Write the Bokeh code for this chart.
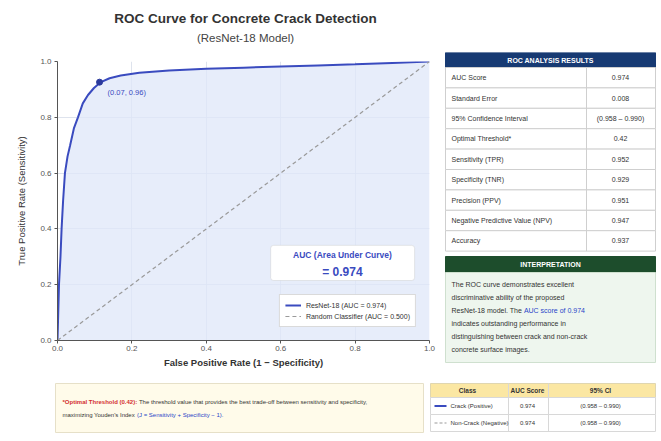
from bokeh.plotting import figure
from bokeh.layouts import column, row
from bokeh.models import Range1d, Label, BoxAnnotation, Legend, LegendItem, PrintfTickFormatter
from bokeh.core.properties import value
from bokeh.embed import file_html
from bokeh.resources import INLINE

FONT = "Liberation Sans"
BLUE = "#3a4bbf"
NAVY = "#173a73"
GREEN = "#1d4d2c"

# ---- data ----
fpr = [0.0, 0.002, 0.004, 0.008, 0.011, 0.015, 0.02, 0.027, 0.034, 0.044, 0.055, 0.068, 0.082,
       0.098, 0.115, 0.14, 0.17, 0.22, 0.3, 0.4, 0.5, 0.6, 0.7, 0.8, 0.9, 1.0]
tpr = [0.0, 0.1, 0.2, 0.3, 0.4, 0.5, 0.6, 0.66, 0.7, 0.76, 0.8, 0.85, 0.88,
       0.905, 0.925, 0.94, 0.95, 0.96, 0.968, 0.974, 0.978, 0.982, 0.986, 0.99, 0.995, 1.0]
diag_x = [0.0, 1.0]
diag_y = [0.0, 1.0]
opt_fpr = [0.113]
opt_tpr = [0.926]
opt_label = "(0.07, 0.96)"
auc_value = 0.974
random_auc = 0.500

ticks = [0.0, 0.2, 0.4, 0.6, 0.8, 1.0]

metric_names = ["AUC Score", "Standard Error", "95% Confidence Interval", "Optimal Threshold*",
                "Sensitivity (TPR)", "Specificity (TNR)", "Precision (PPV)",
                "Negative Predictive Value (NPV)", "Accuracy"]
metric_values = ["0.974", "0.008", "(0.958 \u2013 0.990)", "0.42", "0.952", "0.929", "0.951",
                 "0.947", "0.937"]

interp_lines = ["The ROC curve demonstrates excellent",
                "discriminative ability of the proposed",
                "ResNet-18 model. The ",
                "indicates outstanding performance in",
                "distinguishing between crack and non-crack",
                "concrete surface images."]
interp_highlight = "AUC score of 0.974"

note_red = "*Optimal Threshold (0.42):"
note_line1 = "The threshold value that provides the best trade-off between sensitivity and specificity,"
note_line2 = "maximizing Youden's Index "
note_blue = "(J = Sensitivity + Specificity \u2212 1)."

class_headers = ["Class", "AUC Score", "95% CI"]
class_names = ["Crack (Positive)", "Non-Crack (Negative)"]
class_auc = ["0.974", "0.974"]
class_ci = ["(0.958 \u2013 0.990)", "(0.958 \u2013 0.990)"]


def blank(w, h):
    f = figure(width=w, height=h, x_range=Range1d(0, w), y_range=Range1d(h, 0),
               x_axis_type=None, y_axis_type=None, min_border=0,
               toolbar_location=None, output_backend="svg")
    f.outline_line_color = None
    f.background_fill_color = "white"
    f.border_fill_color = "white"
    f.frame_align = False
    return f


def txt(f, x, y, s, size, color="#333333", align="left", bold=False):
    f.text(x=[x], y=[y], text=[s], text_font=value(FONT), text_font_size=size,
           text_color=color, text_align=align, text_baseline="middle",
           text_font_style="bold" if bold else "normal")


# ---- title ----
tf = blank(660, 52)
txt(tf, 245, 18, "ROC Curve for Concrete Crack Detection", "13.5px", "#333333", "center", True)
txt(tf, 245, 37, "(ResNet-18 Model)", "11.5px", "#444444", "center")

# ---- ROC plot ----
p = figure(width=438, height=326, x_range=Range1d(0, 1), y_range=Range1d(0, 1),
           min_border_left=57, min_border_right=9, min_border_top=9, min_border_bottom=38,
           toolbar_location=None, output_backend="svg")
p.frame_align = False
p.outline_line_color = None
p.background_fill_color = "white"
p.border_fill_color = "white"
p.varea(x=fpr, y1=[0] * len(fpr), y2=tpr, fill_color="#dfe7f8", fill_alpha=0.75)
r1 = p.line(fpr, tpr, line_color=BLUE, line_width=2)
r2 = p.line(diag_x, diag_y, line_color="#9a9a9a", line_dash="4 3", line_width=1.2)
p.scatter(opt_fpr, opt_tpr, size=6, fill_color="#2b3a9c", line_color="#2b3a9c")
p.add_layout(Label(x=opt_fpr[0], y=opt_tpr[0], x_offset=8, y_offset=-10, text=opt_label,
                   text_font=FONT, text_font_size="7.5px", text_color=BLUE,
                   text_baseline="middle"))

p.xaxis.ticker = ticks
p.yaxis.ticker = ticks
p.xaxis.formatter = PrintfTickFormatter(format="%.1f")
p.yaxis.formatter = PrintfTickFormatter(format="%.1f")
p.xaxis.axis_label = "False Positive Rate (1 \u2212 Specificity)"
p.yaxis.axis_label = "True Positive Rate (Sensitivity)"
p.axis.axis_label_text_font = FONT
p.xaxis.axis_label_text_font_size = "9.5px"
p.yaxis.axis_label_text_font_size = "9.5px"
p.xaxis.axis_label_text_font_style = "bold"
p.yaxis.axis_label_text_font_style = "normal"
p.axis.axis_label_text_color = "#333333"
p.axis.major_label_text_font = FONT
p.axis.major_label_text_font_size = "8px"
p.axis.major_label_text_color = "#555555"
p.axis.axis_line_color = "#555555"
p.axis.major_tick_line_color = "#555555"
p.axis.major_tick_out = 3
p.axis.major_tick_in = 0
p.axis.minor_tick_line_color = None
p.xaxis.major_label_standoff = 2
p.yaxis.major_label_standoff = 3
p.xaxis.axis_label_standoff = 3
p.yaxis.axis_label_standoff = 10
p.grid.grid_line_color = "#d6dce8"
p.grid.grid_line_alpha = 0.8

p.add_layout(BoxAnnotation(left=0.573, right=0.96, bottom=0.215, top=0.341,
                           fill_color="white", fill_alpha=1.0, line_color="#b5b5b5",
                           line_width=1, border_radius=3))
p.add_layout(Label(x=0.766, y=0.305, text="AUC (Area Under Curve)", text_align="center",
                   text_baseline="middle", text_font=FONT, text_font_size="8.5px",
                   text_font_style="bold", text_color=BLUE))
p.add_layout(Label(x=0.766, y=0.244, text=f"= {auc_value:.3f}", text_align="center",
                   text_baseline="middle", text_font=FONT, text_font_size="12px",
                   text_font_style="bold", text_color=BLUE))

legend = Legend(items=[
    LegendItem(label=f"ResNet-18 (AUC = {auc_value:.3f})", renderers=[r1]),
    LegendItem(label=f"Random Classifier (AUC = {random_auc:.3f})", renderers=[r2]),
], location="bottom_right")
legend.label_text_font = FONT
legend.label_text_font_size = "7px"
legend.label_text_color = "#333333"
legend.glyph_width = 16
legend.glyph_height = 10
legend.label_height = 10
legend.spacing = 1
legend.padding = 5
legend.margin = 13
legend.label_standoff = 5
legend.border_line_color = "#b5b5b5"
legend.background_fill_color = "white"
legend.background_fill_alpha = 1.0
p.add_layout(legend)

# ---- right panel: results table + interpretation ----
rf = blank(222, 326)
TL, TR = 7, 217
row_h = 20.4
rf.quad(left=[TL], right=[TR], top=[0], bottom=[15], fill_color=NAVY, line_color=NAVY)
txt(rf, (TL + TR) / 2, 7.5, "ROC ANALYSIS RESULTS", "7px", "white", "center", True)
tops = [15 + i * row_h for i in range(len(metric_names))]
rf.quad(left=[TL] * len(tops), right=[TR] * len(tops), top=tops,
        bottom=[t + row_h for t in tops], fill_color="white", line_color="#cfcfcf")
rf.segment(x0=[148], y0=[15], x1=[148], y1=[15 + len(tops) * row_h], line_color="#cfcfcf")
rf.text(x=[13] * len(tops), y=[t + row_h / 2 for t in tops], text=metric_names,
        text_font=value(FONT), text_font_size="7px", text_color="#333333",
        text_baseline="middle")
rf.text(x=[182] * len(tops), y=[t + row_h / 2 for t in tops], text=metric_values,
        text_font=value(FONT), text_font_size="7px", text_color="#333333",
        text_baseline="middle", text_align="center")

rf.quad(left=[TL], right=[TR], top=[204], bottom=[220], fill_color=GREEN, line_color=GREEN)
txt(rf, (TL + TR) / 2, 212, "INTERPRETATION", "7px", "white", "center", True)
rf.quad(left=[TL], right=[TR], top=[220], bottom=[310], fill_color="#eef6ee", line_color="#cfe0cf")
rf.text(x=[13] * len(interp_lines), y=[232 + 13 * i for i in range(len(interp_lines))],
        text=interp_lines, text_font=value(FONT), text_font_size="7px",
        text_color="#333333", text_baseline="middle")
txt(rf, 13 + 72.4, 232 + 13 * 2, interp_highlight, "7px", "#2a45c8")

# ---- bottom note ----
nf = blank(427, 62)
nf.quad(left=[55], right=[423], top=[5], bottom=[54], fill_color="#fffbea", line_color="#e6e0c8")
txt(nf, 62, 23, note_red, "6px", "#d32f2f", "left", True)
txt(nf, 62 + 76.4, 23, note_line1, "6px", "#333333")
txt(nf, 62, 36, note_line2, "6px", "#333333")
txt(nf, 62 + 74.5, 36, note_blue, "6px", "#2a45c8")

# ---- bottom class table ----
cf = blank(233, 62)
CL, CR = 3, 228
cf.quad(left=[CL], right=[CR], top=[5], bottom=[19], fill_color="#fbe7a3", line_color="#e0d6b0")
cf.quad(left=[CL, CL], right=[CR, CR], top=[19, 36], bottom=[36, 53],
        fill_color="white", line_color="#d8d8d8")
cf.segment(x0=[81, 121], y0=[5, 5], x1=[81, 121], y1=[53, 53], line_color="#d8d8d8")
cf.text(x=[40, 100, 173], y=[12, 12, 12], text=class_headers, text_font=value(FONT),
        text_font_size="6.5px", text_font_style="bold", text_color="#333333",
        text_align="center", text_baseline="middle")
cf.segment(x0=[7], y0=[27.5], x1=[19], y1=[27.5], line_color=BLUE, line_width=2)
cf.segment(x0=[7], y0=[44.5], x1=[19], y1=[44.5], line_color="#9a9a9a", line_width=1.2,
           line_dash="3 2")
cf.text(x=[23, 23], y=[27.5, 44.5], text=class_names, text_font=value(FONT),
        text_font_size="6px", text_color="#333333", text_baseline="middle")
cf.text(x=[100, 100], y=[27.5, 44.5], text=class_auc, text_font=value(FONT),
        text_font_size="6px", text_color="#333333", text_baseline="middle", text_align="center")
cf.text(x=[173, 173], y=[27.5, 44.5], text=class_ci, text_font=value(FONT),
        text_font_size="6px", text_color="#333333", text_baseline="middle", text_align="center")

layout = column(tf, row(p, rf, spacing=0), row(nf, cf, spacing=0), spacing=0)

open("out.html", "w").write(file_html(layout, INLINE))
